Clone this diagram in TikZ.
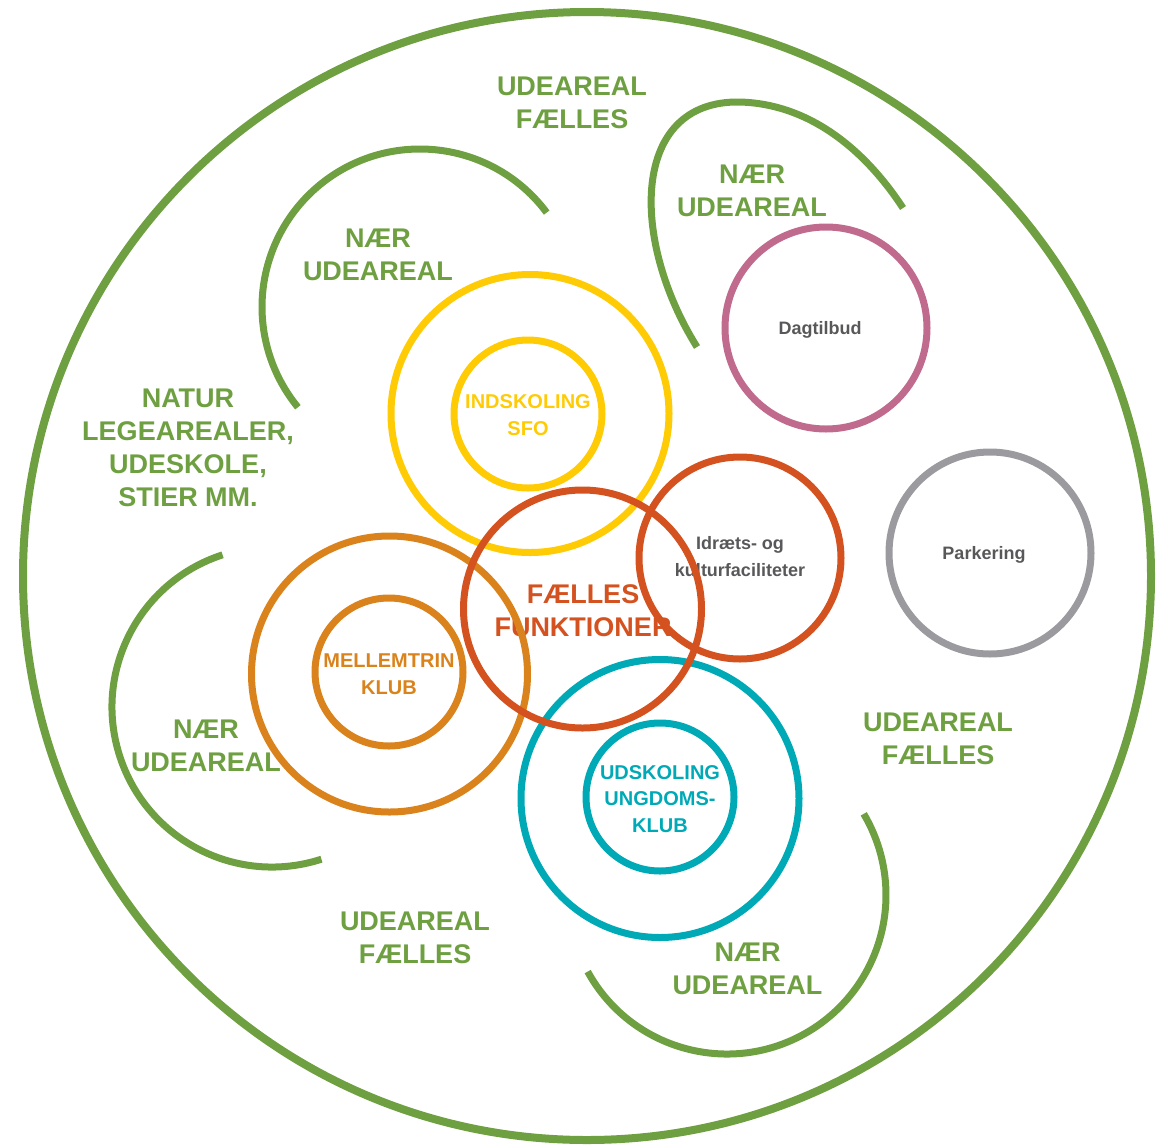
\documentclass[tikz,border=0pt]{standalone}
\usepackage{fontspec}
\setmainfont{Liberation Sans}
\definecolor{ude-green}{HTML}{6E9F40}
\definecolor{sfo-yellow}{HTML}{FFCB05}
\definecolor{klub-orange}{HTML}{DA831C}
\definecolor{faelles-red}{HTML}{D4521F}
\definecolor{ung-teal}{HTML}{00A9B6}
\definecolor{dag-pink}{HTML}{C06B8D}
\definecolor{park-gray}{HTML}{9B9A9F}
\definecolor{label-gray}{HTML}{58585A}

\begin{document}
\begin{tikzpicture}[x=1pt, y=-1pt,
  ring/.style={draw, circle, line width=7pt, inner sep=0pt, minimum size={2*#1pt}},
  greenarc/.style={draw=ude-green, line width=7pt},
  area/.style={align=center, inner sep=0pt, text=ude-green, font=\bfseries\fontsize{27}{33}\selectfont},
  unit/.style={align=center, inner sep=0pt, font=\bfseries\fontsize{20}{26.5}\selectfont},
  facility/.style={align=center, inner sep=0pt, text=label-gray, font=\bfseries\fontsize{18}{27}\selectfont}]
\useasboundingbox (0,0) rectangle (1157,1144);

\node[ring=564, draw=ude-green, line width=8pt] (site) at (587,576) {};

\draw[greenarc] (420,307) ++(-36.7:158) arc[start angle=-36.7, end angle=-219.4, radius=158];
\draw[greenarc] (697,347) .. controls (630,240) and (630,100) .. (740,102) .. controls (810,104) and (865,150) .. (903,208);
\draw[greenarc] (272,707) ++(-108:160) arc[start angle=-108, end angle=-288, radius=160];
\draw[greenarc] (727,895) ++(151.2:159) arc[start angle=151.2, end angle=-30.7, radius=159];

\node[area] (ude-top) at (572,103) {UDEAREAL\\FÆLLES};
\node[area] (ude-right) at (938,738.5) {UDEAREAL\\FÆLLES};
\node[area] (ude-bottom) at (415,937.5) {UDEAREAL\\FÆLLES};
\node[area] (naer-nw) at (378,254.5) {NÆR\\UDEAREAL};
\node[area] (naer-ne) at (752,191) {NÆR\\UDEAREAL};
\node[area] (naer-w) at (206,745.5) {NÆR\\UDEAREAL};
\node[area] (naer-se) at (747.5,968.5) {NÆR\\UDEAREAL};
\node[area] (natur) at (188,447.5) {NATUR\\LEGEAREALER,\\UDESKOLE,\\STIER MM.};

\node[area, text=faelles-red] (faelles) at (583,611) {FÆLLES\\FUNKTIONER};
\node[unit, text=sfo-yellow] (sfo) at (528,415) {INDSKOLING\\SFO};
\node[unit, text=klub-orange] (mellem) at (389,674) {MELLEMTRIN\\KLUB};
\node[unit, text=ung-teal] (udsk) at (660,799) {UDSKOLING\\UNGDOMS-\\KLUB};
\node[facility] (idraet) at (740,556.7) {Idræts- og\\kulturfaciliteter};
\node[facility, anchor=base] (dag) at (820,334) {Dagtilbud};
\node[facility, anchor=base] (park) at (984,559.5) {Parkering};

\node[ring=139, draw=sfo-yellow] (sfo-outer) at (530,413.5) {};
\node[ring=74, draw=sfo-yellow] (sfo-inner) at (528,414) {};
\node[ring=138, draw=klub-orange] (mellem-outer) at (389.5,674) {};
\node[ring=74, draw=klub-orange] (mellem-inner) at (389,672) {};
\node[ring=139, draw=ung-teal] (udsk-outer) at (660,798.5) {};
\node[ring=74, draw=ung-teal] (udsk-inner) at (660,797) {};
\node[ring=119, draw=faelles-red] (faelles-ring) at (582.5,609) {};
\node[ring=101, draw=faelles-red] (idraet-ring) at (740,558) {};
\node[ring=101, draw=dag-pink] (dag-ring) at (826,328) {};
\node[ring=101, draw=park-gray] (park-ring) at (990,553) {};
\end{tikzpicture}
\end{document}
